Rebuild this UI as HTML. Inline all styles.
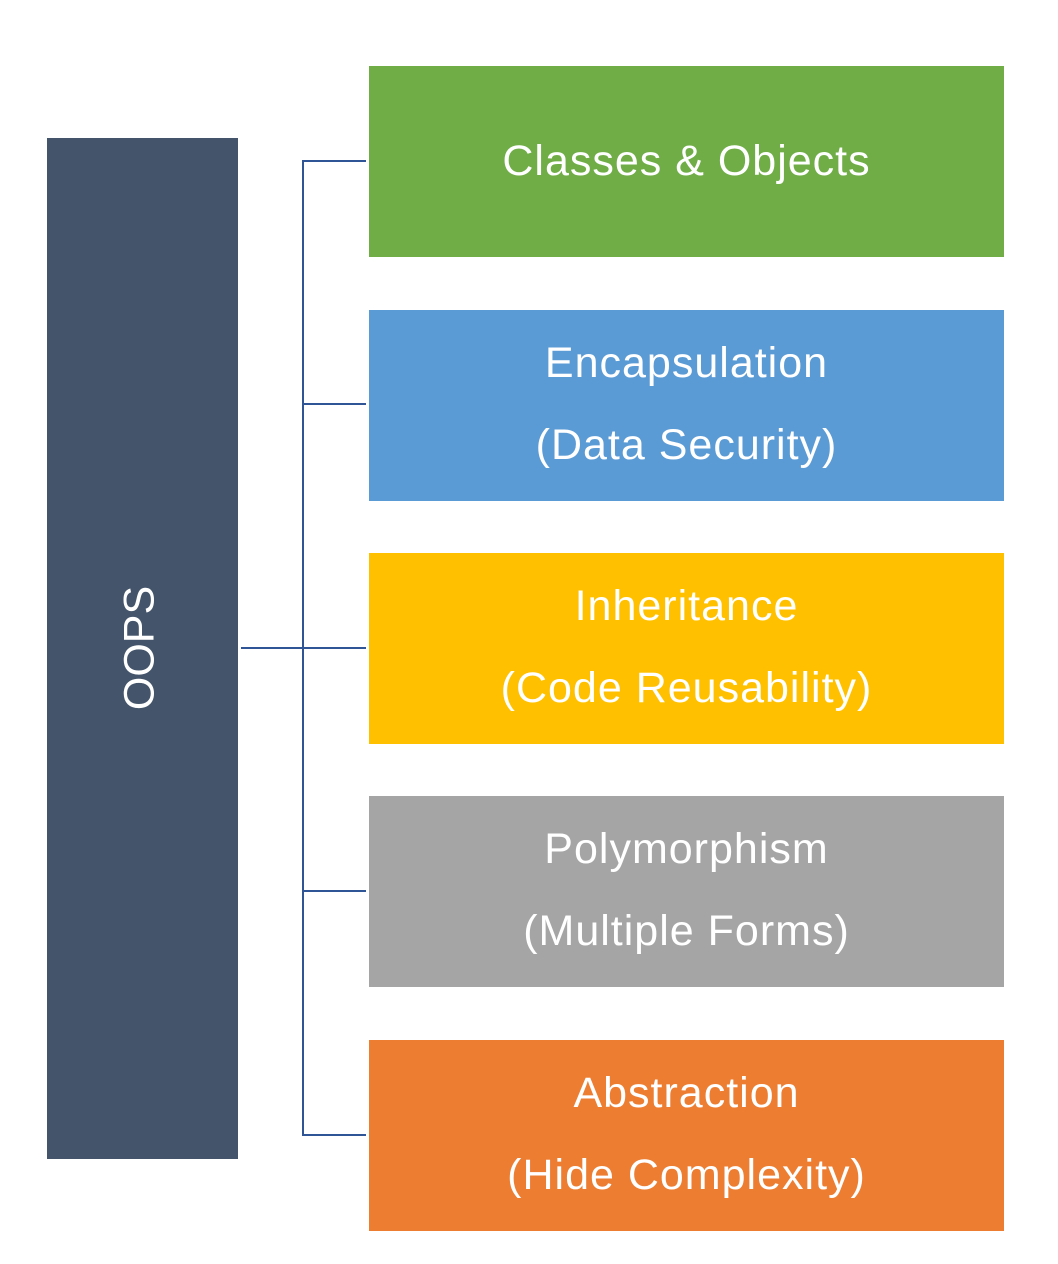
<!DOCTYPE html>
<html><head><meta charset="utf-8"><style>
body{margin:0;width:1058px;height:1264px;background:#fff;position:relative;overflow:hidden;font-family:"Liberation Sans",sans-serif;}
.b{position:absolute;left:369px;width:635px;height:191px;color:#fff;font-size:43px;letter-spacing:1px;text-align:center;}
.b div{position:absolute;left:0;right:0;line-height:50px;}
.l{position:absolute;background:#2f5597;}
</style></head><body>
<div style="position:absolute;left:47px;top:138px;width:191px;height:1021px;background:#44546a;"></div>
<div style="position:absolute;left:140px;top:648px;transform:translate(-50%,-50%) rotate(-90deg);color:#fff;font-size:43px;white-space:nowrap;">OOPS</div>
<div class="l" style="left:302px;top:160px;width:2px;height:976px"></div>
<div class="l" style="left:241px;top:647px;width:125px;height:2px"></div>
<div class="l" style="left:302px;top:160px;width:64px;height:2px"></div>
<div class="l" style="left:302px;top:403px;width:64px;height:2px"></div>
<div class="l" style="left:302px;top:890px;width:64px;height:2px"></div>
<div class="l" style="left:302px;top:1134px;width:64px;height:2px"></div>
<div class="b" style="top:66px;background:#70ad47"><div style="top:70px">Classes &amp; Objects</div></div>
<div class="b" style="top:310px;background:#5b9bd5"><div style="top:28px">Encapsulation</div><div style="top:110px">(Data Security)</div></div>
<div class="b" style="top:553px;background:#ffc000"><div style="top:28px">Inheritance</div><div style="top:110px">(Code Reusability)</div></div>
<div class="b" style="top:796px;background:#a5a5a5"><div style="top:28px">Polymorphism</div><div style="top:110px">(Multiple Forms)</div></div>
<div class="b" style="top:1040px;background:#ed7d31"><div style="top:28px">Abstraction</div><div style="top:110px">(Hide Complexity)</div></div>
</body></html>
